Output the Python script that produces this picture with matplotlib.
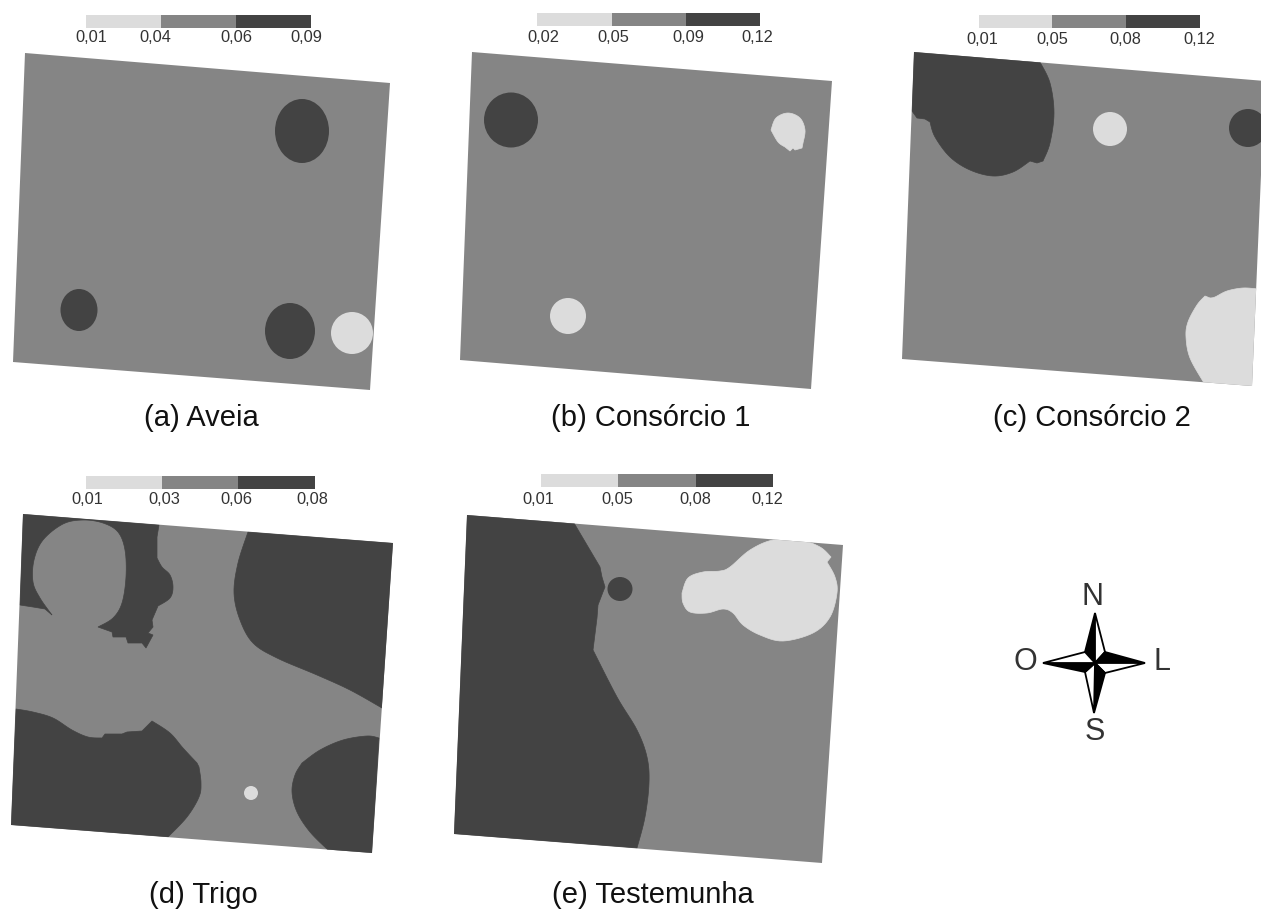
import numpy as np
import matplotlib
matplotlib.use('Agg')
import matplotlib.pyplot as plt
from matplotlib.patches import Ellipse, Polygon

plt.rcParams['font.family'] = ['Liberation Sans', 'DejaVu Sans']

LIGHT = '#dcdcdc'
MID = '#858585'
DARK = '#434343'

captions = ['(a) Aveia', '(b) Consórcio 1', '(c) Consórcio 2', '(d) Trigo', '(e) Testemunha']
caption_x = [201, 651, 1092, 203, 653]
caption_y = [418, 418, 418, 895, 895]

# colour bars: segment edges, bar top/bottom, tick labels and their positions
bar_edges = [[86, 161, 236, 311], [537, 612, 686, 760], [979, 1052, 1126, 1200],
             [86, 162, 238, 315], [541, 618, 696, 773]]
bar_y = [(15, 28), (13, 26), (15, 28), (476, 489), (474, 487)]
bar_labels = [['0,01', '0,04', '0,06', '0,09'], ['0,02', '0,05', '0,09', '0,12'],
              ['0,01', '0,05', '0,08', '0,12'], ['0,01', '0,03', '0,06', '0,08'],
              ['0,01', '0,05', '0,08', '0,12']]
bar_label_x = [[91, 155, 236, 306], [543, 613, 688, 757], [982, 1052, 1125, 1199],
               [87, 164, 236, 312], [538, 617, 695, 767]]
bar_label_y = [38, 37, 39, 500, 499]

# plot outlines
plot_a = [(25, 53), (390, 83), (370, 390), (13, 362)]
plot_b = [(472, 52), (832, 81), (811, 389), (460, 360)]
plot_c = [(914, 52), (1265, 81), (1252, 386), (902, 359)]
plot_d = [(23, 514), (393, 543), (372, 853), (11, 825)]
plot_e = [(467, 515), (843, 545), (822, 863), (454, 834)]
plots = [plot_a, plot_b, plot_c, plot_d, plot_e]

# classes as ellipses: panel, x, y, width, height, colour
blob_panel = [0, 0, 0, 0, 1, 1, 2, 2, 3, 4]
blob_x = [302, 79, 290, 352, 511, 568, 1110, 1248, 251, 620]
blob_y = [131, 310, 331, 333, 120, 316, 129, 128, 793, 589]
blob_w = [54, 37, 50, 42, 54, 36, 34, 38, 14, 25]
blob_h = [64, 42, 56, 42, 55, 36, 34, 38, 14, 24]
blob_c = [DARK, DARK, DARK, LIGHT, DARK, LIGHT, LIGHT, DARK, LIGHT, DARK]

# classes as outlines, with the index ranges that are curved rather than jagged
b_light = [(771, 130), (776, 118), (788, 113), (800, 118), (805, 130), (803, 143), (802, 148),
           (795, 150), (793, 148), (790, 151), (785, 147), (778, 142), (771, 130)]
b_light_curved = [(0, 5), (10, 12)]
c_dark = [(914, 52), (1040, 62), (1050, 83), (1054, 113), (1050, 143), (1043, 161), (1037, 163),
          (1030, 161), (1013, 172), (993, 176), (970, 170), (950, 157), (935, 137), (930, 122),
          (925, 119), (917, 118), (912, 111)]
c_dark_curved = [(1, 5), (7, 13)]
c_light = [(1258, 289), (1243, 288), (1227, 291), (1215, 297), (1210, 298), (1205, 296), (1197, 305),
           (1188, 322), (1186, 337), (1190, 358), (1204, 383), (1252, 386)]
c_light_curved = [(0, 4), (5, 10)]
d_dark1 = [(23, 514), (159, 525), (157, 537), (157, 550), (157, 558), (162, 567), (170, 575),
           (173, 587), (170, 598), (158, 606), (152, 620), (153, 627), (148, 633), (153, 635),
           (146, 648), (142, 643), (128, 643), (126, 637), (113, 637), (112, 632), (98, 627),
           (113, 618), (122, 603), (126, 577), (125, 550), (118, 532), (103, 523), (83, 520),
           (63, 524), (43, 540), (34, 560), (33, 582), (40, 598), (52, 615), (45, 609),
           (33, 607), (20, 605)]
d_dark1_curved = [(4, 9), (20, 33)]
d_dark2 = [(393, 543), (382, 708), (350, 690), (317, 675), (277, 658), (253, 643),
           (240, 620), (234, 593), (238, 563), (248, 532)]
d_dark2_curved = [(1, 9)]
d_dark3 = [(16, 709), (33, 712), (53, 718), (72, 730), (88, 737), (102, 738), (105, 734), (122, 734),
           (127, 732), (142, 731), (152, 721), (170, 733), (183, 748), (197, 763), (199, 767),
           (201, 783), (199, 797), (187, 817), (168, 837), (11, 825)]
d_dark3_curved = [(0, 5), (10, 13), (14, 18)]
d_dark4 = [(379, 738), (367, 736), (343, 740), (320, 750), (302, 763), (295, 775), (292, 792),
           (297, 812), (310, 832), (328, 850), (372, 853)]
d_dark4_curved = [(0, 4), (4, 9)]
e_dark = [(467, 515), (574, 523), (587, 545), (600, 567), (602, 577), (605, 587), (603, 592),
          (598, 605), (597, 618), (593, 650), (617, 697), (637, 730), (647, 757), (649, 783),
          (645, 817), (637, 848), (454, 834)]
e_dark_curved = [(9, 15)]
e_light = [(682, 593), (688, 578), (703, 572), (720, 571), (730, 567), (750, 550), (773, 540),
           (800, 540), (820, 547), (831, 557), (827, 562), (835, 577), (837, 593), (830, 617),
           (813, 633), (783, 641), (760, 635), (743, 625), (733, 613), (723, 609), (707, 613),
           (690, 612), (683, 603), (682, 593)]
e_light_curved = [(0, 9), (10, 23)]

shape_panel = [1, 2, 2, 3, 3, 3, 3, 4, 4]
shapes = [b_light, c_dark, c_light, d_dark1, d_dark2, d_dark3, d_dark4, e_dark, e_light]
shape_curved = [b_light_curved, c_dark_curved, c_light_curved, d_dark1_curved, d_dark2_curved,
                d_dark3_curved, d_dark4_curved, e_dark_curved, e_light_curved]
shape_c = [LIGHT, DARK, LIGHT, DARK, DARK, DARK, DARK, DARK, LIGHT]

# compass
compass_c = (1095, 663)
compass_tips = [(1095, 613), (1145, 663), (1094, 713), (1043, 663)]
compass_inner = [(1085, 652), (1105, 652), (1105, 673), (1085, 672)]
compass_letters = ['N', 'L', 'S', 'O']
compass_lx = [1093, 1162, 1095, 1025]
compass_ly = [597, 662, 732, 662]


def round_outline(pts, curved):
    # catmull-rom through the curved stretches, straight segments elsewhere
    pts = np.array(pts, dtype=float)
    out = []
    i = 0
    spans = {a: b for a, b in curved}
    while i < len(pts):
        if i in spans:
            b = spans[i]
            for k in range(i, b):
                p0 = pts[max(k - 1, i)]
                p1, p2 = pts[k], pts[k + 1]
                p3 = pts[min(k + 2, b)]
                for t in np.linspace(0, 1, 8, endpoint=False):
                    out.append(0.5 * (2 * p1 + (p2 - p0) * t + (2 * p0 - 5 * p1 + 4 * p2 - p3) * t ** 2
                                      + (3 * p1 - p0 - 3 * p2 + p3) * t ** 3))
            i = b
        else:
            out.append(pts[i])
            i += 1
    return np.array(out)


fig = plt.figure(figsize=(12.61, 9.09), dpi=100)
ax = fig.add_axes([0, 0, 1, 1])
ax.set_xlim(0, 1261)
ax.set_ylim(909, 0)
ax.axis('off')

clips = []
for pts in plots:
    base = Polygon(pts, closed=True, fc=MID, ec='none', zorder=1)
    ax.add_patch(base)
    clips.append(base)

for s, cv, p, c in zip(shapes, shape_curved, shape_panel, shape_c):
    patch = Polygon(round_outline(s, cv), closed=True, fc=c, ec=c, lw=0.5, zorder=2)
    ax.add_patch(patch)
    patch.set_clip_path(clips[p])

for i in range(len(blob_x)):
    e = Ellipse((blob_x[i], blob_y[i]), blob_w[i], blob_h[i], fc=blob_c[i], ec='none', zorder=3)
    ax.add_patch(e)
    e.set_clip_path(clips[blob_panel[i]])

for k in range(5):
    ed = bar_edges[k]
    y0, y1 = bar_y[k]
    for j, c in enumerate([LIGHT, MID, DARK]):
        ax.fill_between([ed[j], ed[j + 1]], y0, y1, color=c, lw=0)
    for lab, lx in zip(bar_labels[k], bar_label_x[k]):
        ax.text(lx, bar_label_y[k], lab, ha='center', va='center', fontsize=11.8, color='#333333')
    ax.text(caption_x[k], caption_y[k], captions[k], ha='center', va='center', fontsize=21, color='#111111')

# each arm is half black, half white
for i in range(4):
    tip = compass_tips[i]
    left = compass_inner[i]
    right = compass_inner[(i + 1) % 4]
    ax.add_patch(Polygon([compass_c, left, tip], closed=True, fc='black', ec='black', lw=1.3, zorder=4))
    ax.add_patch(Polygon([compass_c, tip, right], closed=True, fc='white', ec='black', lw=1.3, zorder=4))
    ax.text(compass_lx[i], compass_ly[i], compass_letters[i], ha='center', va='center',
            fontsize=22, color='#333333')

fig.savefig('out.png', dpi=100)
